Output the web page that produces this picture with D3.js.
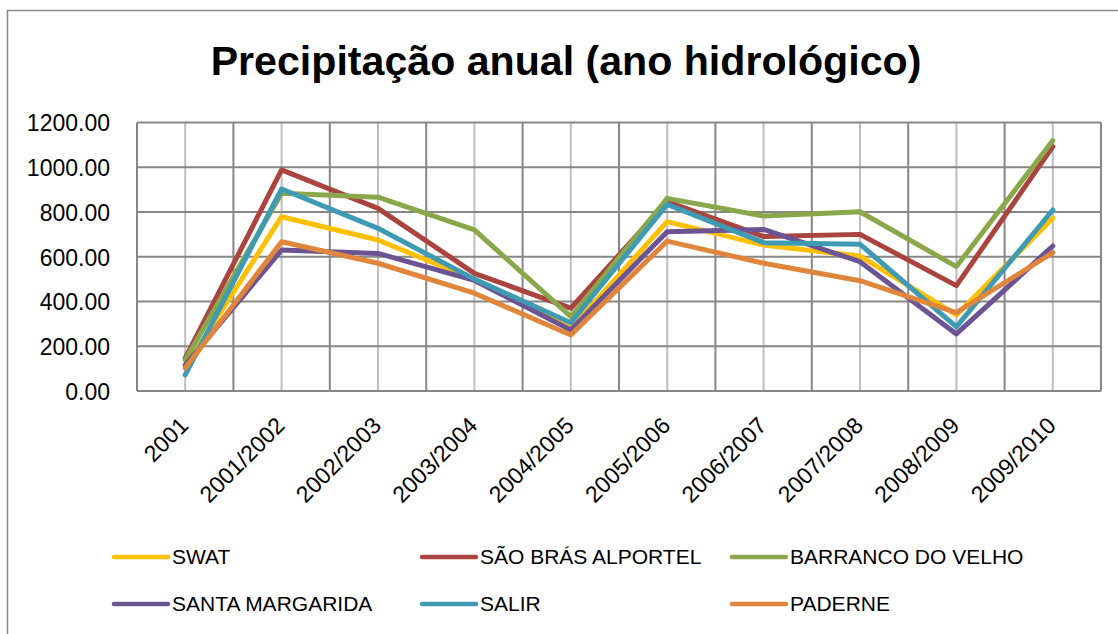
<!DOCTYPE html>
<html>
<head>
<meta charset="utf-8">
<script src="https://cdn.jsdelivr.net/npm/d3@7"></script>
<style>
html,body{margin:0;padding:0;background:#fff;}
svg{display:block;}
</style>
</head>
<body>
<svg id="chart" width="1118" height="634"></svg>
<script>
const title = "Precipitação anual (ano hidrológico)";
const categories = ["2001","2001/2002","2002/2003","2003/2004","2004/2005","2005/2006","2006/2007","2007/2008","2008/2009","2009/2010"];
const yTicks = [0,200,400,600,800,1000,1200];
const seriesNames = ["SWAT","SÃO BRÁS ALPORTEL","BARRANCO DO VELHO","SANTA MARGARIDA","SALIR","PADERNE"];
const seriesColors = ["#FFC000","#A9443F","#8AA84B","#6C5494","#3F9AB4","#E0863C"];
const swat           = [105, 779, 675, 497, 280, 757, 652, 603, 340, 772];
const saoBras        = [147, 988, 816, 526, 370, 846, 690, 700, 471, 1092];
const barranco       = [139, 884, 866, 720, 332, 861, 782, 801, 556, 1119];
const santaMargarida = [116, 630, 615, 494, 273, 712, 722, 578, 255, 648];
const salir          = [72, 903, 727, 500, 305, 834, 663, 656, 287, 809];
const paderne        = [103, 667, 571, 437, 250, 670, 571, 493, 350, 618];
const seriesValues = [swat, saoBras, barranco, santaMargarida, salir, paderne];

const svg = d3.select("#chart");
const FONT = "'Liberation Sans', Arial, sans-serif";
const plot = {left:137, right:1101, top:122.5, bottom:391};

// frame
svg.append("rect").attr("x",7.5).attr("y",10.5).attr("width",1130).attr("height",640)
  .attr("fill","none").attr("stroke","#898989").attr("stroke-width",1.5);

// title
const t = svg.append("text").attr("x",566).attr("y",75).attr("text-anchor","middle")
  .attr("font-family",FONT).attr("font-weight","bold").attr("font-size",41).attr("fill","#000").text(title);
const tw = t.node().getComputedTextLength();
t.attr("font-size", 41*711/tw);

const x = d3.scalePoint().domain(categories).range([plot.left, plot.right]).padding(0.5);
const y = d3.scaleLinear().domain([0,1200]).range([plot.bottom, plot.top]);
const step = x.step();

// grid: vertical center lines (light)
svg.append("g").selectAll("line").data(categories).join("line")
  .attr("x1",d=>x(d)).attr("x2",d=>x(d)).attr("y1",plot.top).attr("y2",plot.bottom)
  .attr("stroke","#BFBFBF").attr("stroke-width",2);
// vertical boundary lines (dark)
const bounds = d3.range(categories.length+1);
svg.append("g").selectAll("line").data(bounds).join("line")
  .attr("x1",i=>plot.left+i*step).attr("x2",i=>plot.left+i*step).attr("y1",plot.top).attr("y2",plot.bottom)
  .attr("stroke","#878787").attr("stroke-width",2);
// horizontal lines
svg.append("g").selectAll("line").data(yTicks).join("line")
  .attr("x1",plot.left).attr("x2",plot.right).attr("y1",d=>y(d)).attr("y2",d=>y(d))
  .attr("stroke","#878787").attr("stroke-width",2);

// y axis labels
const yAxis = d3.axisLeft(y).tickValues(yTicks).tickFormat(d3.format(".2f")).tickSize(0).tickPadding(0);
const ya = svg.append("g").attr("transform",`translate(${110},0)`).call(yAxis);
ya.select(".domain").remove();
ya.selectAll("text").attr("font-family",FONT).attr("font-size",23).attr("fill","#000").attr("dy","0.36em");

// x axis labels
const xAxis = d3.axisBottom(x).tickSize(0).tickPadding(0);
const xa = svg.append("g").attr("transform",`translate(0,${plot.bottom})`).call(xAxis);
xa.select(".domain").remove();
xa.selectAll("text").attr("font-family",FONT).attr("font-size",23).attr("fill","#000")
  .attr("text-anchor","end").attr("dy",0).attr("y",0)
  .attr("transform","translate(4,36) rotate(-45)");

// lines
const line = d3.line().x((d,i)=>x(categories[i])).y(d=>y(d));
svg.append("g").selectAll("path").data(seriesValues).join("path")
  .attr("d",d=>line(d)).attr("fill","none")
  .attr("stroke",(d,i)=>seriesColors[i]).attr("stroke-width",5)
  .attr("stroke-linejoin","round").attr("stroke-linecap","round");

// legend
const colX = [114, 422, 732];
const rowY = [557, 604];
const lg = svg.append("g").selectAll("g").data(seriesNames).join("g")
  .attr("transform",(d,i)=>`translate(${colX[i%3]},${rowY[Math.floor(i/3)]})`);
lg.append("line").attr("x1",0).attr("x2",54).attr("y1",0).attr("y2",0)
  .attr("stroke",(d,i)=>seriesColors[i]).attr("stroke-width",4.5).attr("stroke-linecap","round");
lg.append("text").attr("x",58).attr("y",7).attr("font-family",FONT).attr("font-size",21)
  .attr("fill","#000").text(d=>d);
</script>
</body>
</html>
